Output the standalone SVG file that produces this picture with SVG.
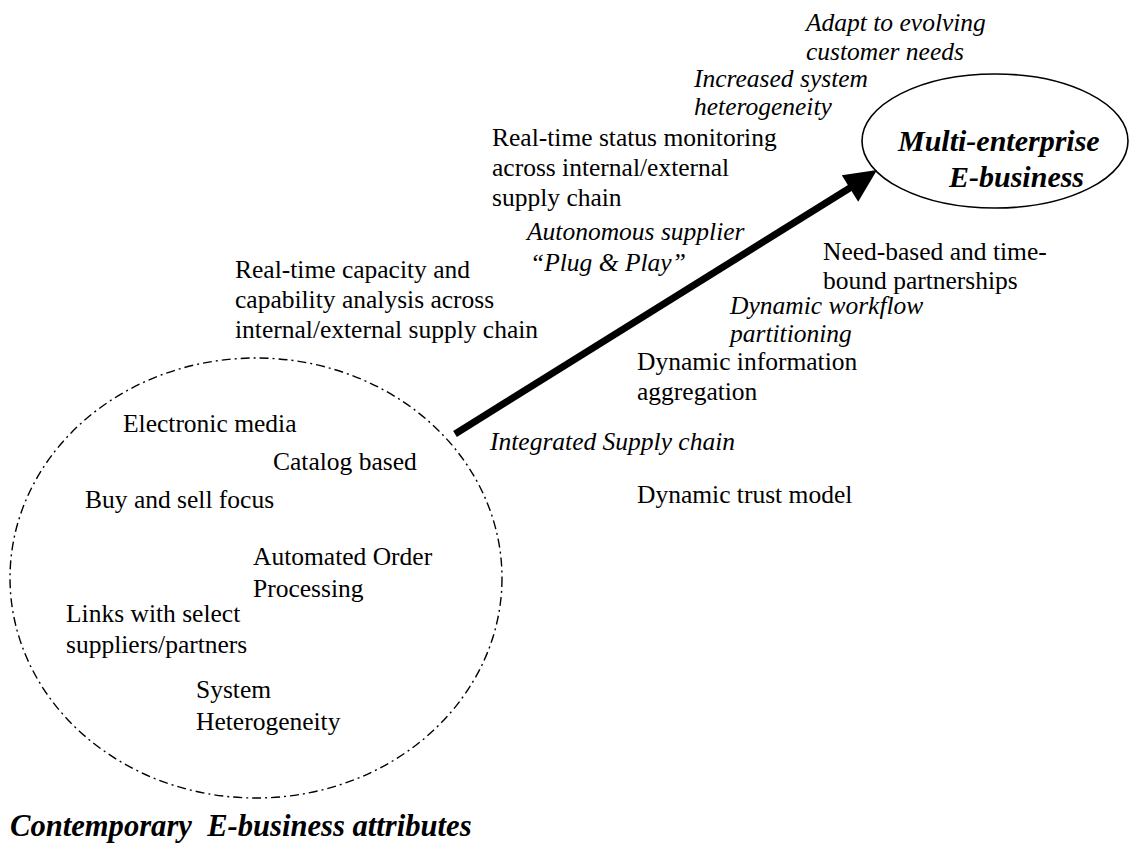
<svg xmlns="http://www.w3.org/2000/svg" width="1129" height="846" viewBox="0 0 1129 846">
<style>
text{font-family:"Liberation Serif","Times New Roman",serif;fill:#000;font-size:25.5px}
.it{font-style:italic}
.bi{font-style:italic;font-weight:bold;font-size:30px}
.title{font-size:30.6px;white-space:pre}
.dash{fill:none;stroke:#000;stroke-width:1.4;stroke-dasharray:9 4 2 4}
.solid{fill:none;stroke:#000;stroke-width:1.6}
</style>
<rect width="1129" height="846" fill="#fff"/>
<g id="contemporary">
<ellipse class="dash" cx="256" cy="578" rx="246" ry="220"/>
<text x="123" y="432">Electronic media</text>
<text x="273" y="470">Catalog based</text>
<text x="85" y="508">Buy and sell focus</text>
<text x="253" y="565">Automated Order</text>
<text x="253" y="597">Processing</text>
<text x="66" y="622">Links with select</text>
<text x="66" y="653">suppliers/partners</text>
<text x="196" y="698">System</text>
<text x="196" y="730">Heterogeneity</text>
<text class="bi title" x="10" y="836">Contemporary  E-business attributes</text>
</g>
<g id="multi-enterprise">
<ellipse class="solid" cx="995" cy="141" rx="133" ry="67"/>
<text class="bi" x="898" y="151">Multi-enterprise</text>
<text class="bi" x="949" y="187">E-business</text>
</g>
<g id="connectors">
<line x1="455" y1="434" x2="853" y2="186" stroke="#000" stroke-width="7"/>
<polygon points="877,170 841.8,175.3 858.2,201.7" fill="#000"/>
</g>
<g id="attributes">
<text class="it" x="806" y="31">Adapt to evolving</text>
<text class="it" x="806" y="60">customer needs</text>
<text class="it" x="694" y="87">Increased system</text>
<text class="it" x="694" y="115">heterogeneity</text>
<text x="492" y="146">Real-time status monitoring</text>
<text x="492" y="176">across internal/external</text>
<text x="492" y="206">supply chain</text>
<text class="it" x="527" y="240">Autonomous supplier</text>
<text class="it" x="530" y="271">“Plug &amp; Play”</text>
<text x="235" y="278">Real-time capacity and</text>
<text x="235" y="308">capability analysis across</text>
<text x="235" y="338">internal/external supply chain</text>
<text x="823" y="260">Need-based and time-</text>
<text x="823" y="289">bound partnerships</text>
<text class="it" x="730" y="314">Dynamic workflow</text>
<text class="it" x="730" y="342">partitioning</text>
<text x="637" y="370">Dynamic information</text>
<text x="637" y="400">aggregation</text>
<text class="it" x="490" y="450">Integrated Supply chain</text>
<text x="637" y="503">Dynamic trust model</text>
</g>
</svg>
